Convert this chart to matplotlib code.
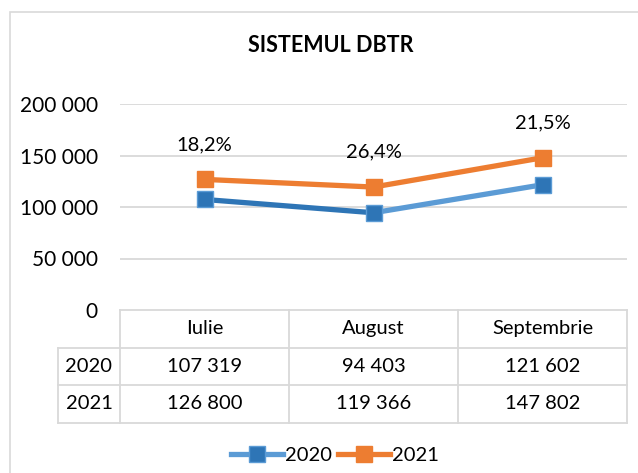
import matplotlib.pyplot as plt
from matplotlib.patches import Rectangle
from matplotlib.lines import Line2D

# data
months = ["Iulie", "August", "Septembrie"]
series_names = ["2020", "2021"]
values_2020 = [107319, 94403, 121602]
values_2021 = [126800, 119366, 147802]
growth_labels = ["18,2%", "26,4%", "21,5%"]
y_ticks = [0, 50000, 100000, 150000, 200000]

BLUE_DARK = "#2E75B6"
BLUE_LIGHT = "#5B9BD5"
ORANGE = "#ED7D31"
GRID = "#D9D9D9"
FS = 14.5

plt.rcParams['font.family'] = ['Lato', 'DejaVu Sans']


def fmt(v):
    return f"{v:,}".replace(",", " ")


fig = plt.figure(figsize=(6.38, 4.73), dpi=100)
W, H = 638, 473

# outer chart frame (cropped at right/bottom like the reference)
fig.patches.append(Rectangle((10 / W, -0.05), 1.0, 1 - 12 / H + 0.05,
                             transform=fig.transFigure, fill=False,
                             edgecolor=GRID, linewidth=1.2))

fig.text(331 / W, 1 - 45 / H, "SISTEMUL DBTR", ha="center", va="center",
         fontsize=15.5, fontweight="bold")

ax = fig.add_axes([120 / W, 1 - 310 / H, (627 - 120) / W, (310 - 104) / H])
x = [0.5, 1.5, 2.5]
ax.set_xlim(0, 3)
ax.set_ylim(0, 200000)
ax.set_yticks(y_ticks)
ax.set_yticklabels([fmt(t) for t in y_ticks], fontsize=FS + 0.5)
ax.set_xticks([])
ax.tick_params(axis="y", length=0, pad=16)
for s in ax.spines.values():
    s.set_visible(False)
for t in y_ticks[1:]:
    ax.axhline(t, color=GRID, linewidth=1.3, zorder=0)

# 2020 line, darker first segment then lighter
ax.plot(x[:2], values_2020[:2], color=BLUE_DARK, linewidth=3.8, zorder=2)
ax.plot(x[1:], values_2020[1:], color=BLUE_LIGHT, linewidth=3.8, zorder=2)
ax.plot(x, values_2020, linestyle="none", marker="s", markersize=12,
        markerfacecolor=BLUE_DARK, markeredgecolor=BLUE_LIGHT,
        markeredgewidth=1, zorder=3)
ax.plot(x, values_2021, color=ORANGE, linewidth=3.8, marker="s",
        markersize=12, markerfacecolor=ORANGE, markeredgecolor=ORANGE,
        zorder=3)

for xi, v, lab in zip(x, values_2021, growth_labels):
    ax.annotate(lab, (xi, v), xytext=(0, 25), textcoords="offset points",
                ha="center", va="center", fontsize=FS)

# data table below the axes
row_h = 37.5 / (310 - 104)
left_ext = -(120 - 58) / (627 - 120) * 3
xt = ax.get_xaxis_transform()
tkw = dict(color=GRID, linewidth=1.3, clip_on=False, transform=xt)
# header row (months)
for i, m in enumerate(months):
    ax.text(x[i], -row_h / 2, m, ha="center", va="center", fontsize=FS,
            transform=xt)
rows = [values_2020, values_2021]
for r, (name, vals) in enumerate(zip(series_names, rows)):
    yc = -row_h * (r + 1.5)
    ax.text(left_ext / 2, yc, name, ha="center", va="center",
            fontsize=FS, transform=xt)
    for i, v in enumerate(vals):
        ax.text(x[i], yc, fmt(v), ha="center", va="center", fontsize=FS,
                transform=xt)

# horizontal table lines
ax.add_line(Line2D([0, 3], [0, 0], **tkw))
for k in range(1, 4):
    ax.add_line(Line2D([left_ext, 3], [-row_h * k] * 2, **tkw))
# vertical table lines
for xv in [0, 1, 2, 3]:
    ax.add_line(Line2D([xv, xv], [0, -row_h * 3], **tkw))
ax.add_line(Line2D([left_ext, left_ext], [-row_h, -row_h * 3], **tkw))

# legend
h2020 = Line2D([], [], color=BLUE_LIGHT, linewidth=3.8, marker="s",
               markersize=12, markerfacecolor=BLUE_DARK,
               markeredgecolor=BLUE_LIGHT)
h2021 = Line2D([], [], color=ORANGE, linewidth=3.8, marker="s",
               markersize=12, markerfacecolor=ORANGE, markeredgecolor=ORANGE)
fig.legend([h2020, h2021], series_names, loc="center",
           bbox_to_anchor=(335 / W, 1 - 455 / H), ncol=2, frameon=False,
           fontsize=FS, handlelength=2.6, handletextpad=0.1,
           columnspacing=0.3)

fig.savefig("out.png", dpi=100)
